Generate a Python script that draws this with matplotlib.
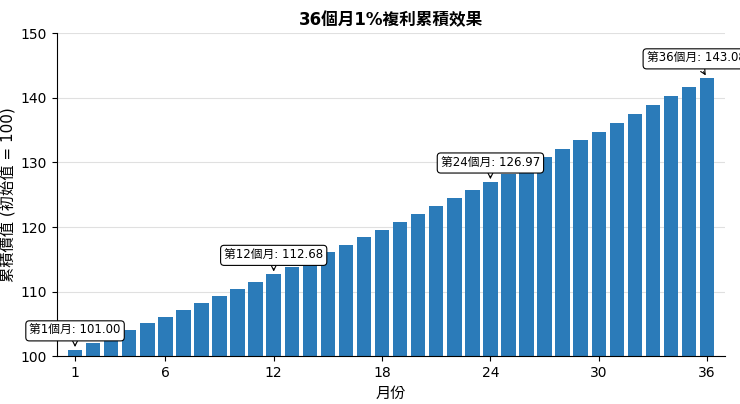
import matplotlib
matplotlib.use("Agg")
import matplotlib.pyplot as plt

plt.rcParams['font.family'] = ['DejaVu Sans', 'Noto Sans CJK TC']

months = list(range(1, 37))
values = [101.00, 102.01, 103.03, 104.06, 105.10, 106.15, 107.21, 108.29, 109.37, 110.46,
          111.57, 112.68, 113.81, 114.95, 116.10, 117.26, 118.43, 119.61, 120.81, 122.02,
          123.24, 124.47, 125.72, 126.97, 128.24, 129.53, 130.82, 132.13, 133.45, 134.78,
          136.13, 137.49, 138.87, 140.26, 141.66, 143.08]
xticks = [1, 6, 12, 18, 24, 30, 36]
highlight = [1, 12, 24, 36]

fig = plt.figure(figsize=(7.4, 4.04), dpi=100)
ax = fig.add_axes([0.077, 0.118, 0.903, 0.8])
ax.bar(months, values, width=0.8, color='#2b7bb9', zorder=2)
ax.set_ylim(100, 150)
ax.set_xlim(0.0, 37.0)
ax.set_xticks(xticks)
ax.set_yticks([100, 110, 120, 130, 140, 150])
ax.grid(axis='y', color='#e0e0e0', linewidth=0.8, zorder=0)
ax.spines['top'].set_visible(False)
ax.spines['right'].set_visible(False)
ax.tick_params(labelsize=10)
ax.set_xlabel('月份', fontsize=11)
ax.set_ylabel('累積價值 (初始值 = 100)', fontsize=11)
ax.set_title('36個月1%複利累積效果', fontsize=12, fontweight='bold')
for m in highlight:
    v = values[m - 1]
    dx = -8 if m == 36 else 0
    ax.annotate(f'第{m}個月: {v:.2f}', xy=(m, v), xytext=(dx, 9), textcoords='offset points',
                ha='center', va='bottom', fontsize=8.5,
                bbox=dict(boxstyle='round,pad=0.3', fc='white', ec='black', lw=0.8),
                arrowprops=dict(arrowstyle='->', color='black', lw=0.8), zorder=5)
fig.savefig('out.png', dpi=100)
